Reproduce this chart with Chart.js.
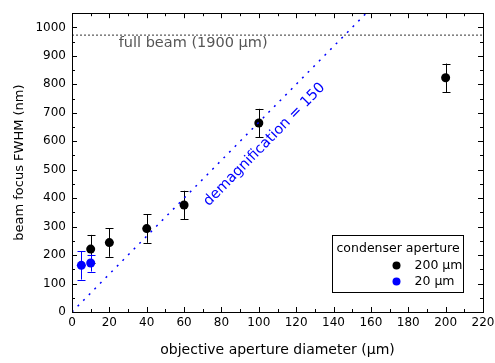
<!DOCTYPE html>
<html>
<head>
<meta charset="utf-8">
<script src="https://cdn.jsdelivr.net/npm/chart.js@4.4.0/dist/chart.umd.min.js"></script>
<style>
  html, body { margin: 0; padding: 0; background: #fff; }
  #wrap { width: 495px; height: 363px; }
</style>
</head>
<body>
<div id="wrap"><canvas id="grafico"></canvas></div>
<script>
// dados
const apertura200 = [10, 20, 40, 60, 100, 200];
const fwhm200 = [221, 244, 293, 376, 664, 823];
const erro200 = [50, 50, 50, 50, 50, 50];

const apertura20 = [5, 10];
const fwhm20 = [164, 172];
const erro20 = [50, 30];

const feixeCheio = 973; // nm, linha "full beam"
const demag = 150;
const demagX = [0, 157.5];

const ticksX = [0, 20, 40, 60, 80, 100, 120, 140, 160, 180, 200, 220];
const ticksY = [0, 100, 200, 300, 400, 500, 600, 700, 800, 900, 1000];

const FONTE = "'DejaVu Sans', sans-serif";
const AZUL = "#0000ff";

function pontos(xs, ys, es) {
  return xs.map((x, i) => ({ x: x, y: ys[i], e: es ? es[i] : 0 }));
}

// barras de erro + moldura + ticks internos + textos + legenda
const extras = {
  id: "extras",
  beforeDatasetsDraw(chart) {
    const ctx = chart.ctx;
    const sx = chart.scales.x, sy = chart.scales.y;
    chart.data.datasets.forEach((ds) => {
      if (!ds.erro) return;
      ctx.save();
      ctx.strokeStyle = ds.corErro;
      ctx.lineWidth = 1;
      ds.data.forEach((p) => {
        const px = Math.round(sx.getPixelForValue(p.x)) + 0.5;
        const y1 = sy.getPixelForValue(p.y + p.e);
        const y2 = sy.getPixelForValue(p.y - p.e);
        ctx.beginPath();
        ctx.moveTo(px, y1); ctx.lineTo(px, y2);
        ctx.moveTo(px - 4, Math.round(y1) + 0.5); ctx.lineTo(px + 4, Math.round(y1) + 0.5);
        ctx.moveTo(px - 4, Math.round(y2) + 0.5); ctx.lineTo(px + 4, Math.round(y2) + 0.5);
        ctx.stroke();
      });
      ctx.restore();
    });
  },
  afterDraw(chart) {
    const ctx = chart.ctx;
    const a = chart.chartArea;
    const sx = chart.scales.x, sy = chart.scales.y;
    ctx.save();
    ctx.strokeStyle = "#000";
    ctx.lineWidth = 1;

    // ticks internos (maiores e menores) nos quatro lados
    ctx.beginPath();
    for (let v = 0; v <= 220; v += 10) {
      const px = Math.round(sx.getPixelForValue(v)) + 0.5;
      const len = v % 20 === 0 ? 5 : 3;
      ctx.moveTo(px, a.bottom); ctx.lineTo(px, a.bottom - len);
      ctx.moveTo(px, a.top); ctx.lineTo(px, a.top + len);
    }
    for (let v = 0; v <= 1050; v += 50) {
      const py = Math.round(sy.getPixelForValue(v)) + 0.5;
      const len = v % 100 === 0 ? 5 : 3;
      ctx.moveTo(a.left, py); ctx.lineTo(a.left + len, py);
      ctx.moveTo(a.right, py); ctx.lineTo(a.right - len, py);
    }
    ctx.stroke();

    // moldura
    ctx.strokeRect(Math.round(a.left) + 0.5, Math.round(a.top) + 0.5,
      Math.round(a.right - a.left), Math.round(a.bottom - a.top));

    // texto full beam
    ctx.fillStyle = "#555";
    ctx.font = "14.5px " + FONTE;
    ctx.textAlign = "left";
    ctx.textBaseline = "middle";
    ctx.fillText("full beam (1900 \u00b5m)", sx.getPixelForValue(25), sy.getPixelForValue(945));

    // texto demagnification (rotacionado ao longo da linha)
    const p0x = sx.getPixelForValue(0), p0y = sy.getPixelForValue(0);
    const p1x = sx.getPixelForValue(150), p1y = sy.getPixelForValue(1000);
    const ang = Math.atan2(p1y - p0y, p1x - p0x);
    ctx.save();
    ctx.translate(sx.getPixelForValue(103), sy.getPixelForValue(588));
    ctx.rotate(ang);
    ctx.fillStyle = AZUL;
    ctx.font = "14.5px " + FONTE;
    ctx.textAlign = "center";
    ctx.fillText("demagnification = " + demag, 0, 0);
    ctx.restore();

    // legenda
    const lx = 332.5, ly = 235.5, lw = 131, lh = 57;
    ctx.fillStyle = "#fff";
    ctx.fillRect(lx, ly, lw, lh);
    ctx.strokeStyle = "#000";
    ctx.strokeRect(lx, ly, lw, lh);
    ctx.fillStyle = "#000";
    ctx.font = "12.5px " + FONTE;
    ctx.textAlign = "left";
    ctx.fillText("condenser aperture", lx + 4, ly + 13);
    const itens = [
      { cor: "#000", txt: "200 \u00b5m" },
      { cor: AZUL, txt: "20 \u00b5m" },
    ];
    itens.forEach((it, i) => {
      const yy = ly + 30 + i * 16;
      ctx.fillStyle = it.cor;
      ctx.beginPath();
      ctx.arc(lx + 64, yy, 4, 0, Math.PI * 2);
      ctx.fill();
      ctx.fillStyle = "#000";
      ctx.fillText(it.txt, lx + 82, yy);
    });
    ctx.restore();
  },
};

new Chart(document.getElementById("grafico"), {
  type: "scatter",
  data: {
    datasets: [
      {
        label: "demag",
        type: "line",
        data: demagX.map((x) => ({ x: x, y: (x * 1000) / demag })),
        borderColor: AZUL,
        borderWidth: 1.5,
        borderDash: [2, 6],
        pointRadius: 0,
        fill: false,
      },
      {
        label: "full beam",
        type: "line",
        data: [{ x: 0, y: feixeCheio }, { x: 220, y: feixeCheio }],
        borderColor: "#333",
        borderWidth: 1,
        borderDash: [2, 2],
        pointRadius: 0,
        fill: false,
      },
      {
        label: "200 \u00b5m",
        data: pontos(apertura200, fwhm200, erro200),
        erro: true,
        corErro: "#000",
        backgroundColor: "#000",
        borderColor: "#000",
        borderWidth: 0,
        pointRadius: 4.5,
      },
      {
        label: "20 \u00b5m",
        data: pontos(apertura20, fwhm20, erro20),
        erro: true,
        corErro: AZUL,
        backgroundColor: AZUL,
        borderColor: AZUL,
        borderWidth: 0,
        pointRadius: 4.5,
      },
    ],
  },
  options: {
    responsive: true,
    maintainAspectRatio: false,
    animation: false,
    layout: { padding: { top: 7, right: 0, left: 0, bottom: 0 } },
    plugins: {
      legend: { display: false },
      tooltip: { enabled: false },
    },
    scales: {
      x: {
        type: "linear",
        min: 0,
        max: 220,
        afterBuildTicks: (s) => { s.ticks = ticksX.map((v) => ({ value: v })); },
        afterFit: (s) => { s.height = 51; s.paddingRight = 12; s.paddingLeft = 0; },
        grid: { display: false, drawTicks: false },
        border: { display: false },
        ticks: { color: "#000", padding: 4, font: { family: FONTE, size: 12 }, maxRotation: 0 },
        title: {
          display: true,
          text: "objective aperture diameter (\u00b5m)",
          color: "#000",
          font: { family: FONTE, size: 14 },
          padding: { top: 5 },
        },
      },
      y: {
        type: "linear",
        min: 0,
        max: 1050,
        afterBuildTicks: (s) => { s.ticks = ticksY.map((v) => ({ value: v })); },
        afterFit: (s) => { s.width = 72; },
        grid: { display: false, drawTicks: false },
        border: { display: false },
        ticks: {
          color: "#000",
          padding: 6,
          font: { family: FONTE, size: 12 },
          callback: (v) => String(v),
        },
        title: {
          display: true,
          text: "beam focus FWHM (nm)",
          color: "#000",
          font: { family: FONTE, size: 13 },
          padding: { top: 12, bottom: 0 },
        },
      },
    },
  },
  plugins: [extras],
});
</script>
</body>
</html>
